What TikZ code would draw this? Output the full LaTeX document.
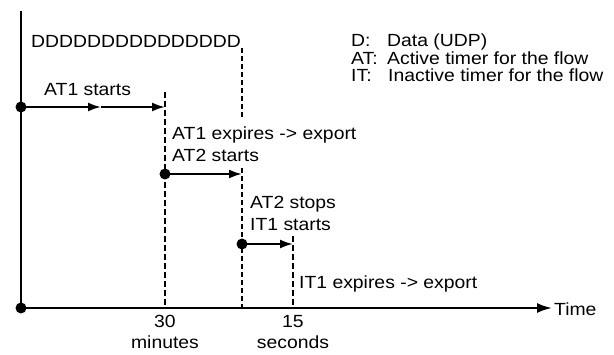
\documentclass[tikz,border=0pt]{standalone}
\usepackage{fontspec}
\setmainfont{Liberation Sans}[FakeStretch=1.1]
\usetikzlibrary{arrows.meta}
\begin{document}
\begin{tikzpicture}[x=1pt,y=-1pt,
  txt/.style={anchor=base west, inner sep=0pt, font=\fontsize{17.6}{20}\selectfont},
  ctxt/.style={anchor=base, inner sep=0pt, font=\fontsize{17.6}{20}\selectfont},
  axis/.style={line width=2.1pt},
  flow/.style={line width=2.1pt, -{Latex[length=13pt,width=9pt]}},
  guide/.style={line width=2.6pt, dash pattern=on 6pt off 3pt},
  guidethin/.style={line width=1.4pt, dash pattern=on 5pt off 3pt},
  dot/.style={circle, fill=black, inner sep=0pt, minimum size=11pt}]
\useasboundingbox (0,0) rectangle (614,355);
% guide lines
\coordinate (g1t) at (165,92);  \coordinate (g1b) at (165,308);
\coordinate (g2t) at (242,48);  \coordinate (g2m) at (242,117);
\coordinate (g2n) at (242,168); \coordinate (g2b) at (242,308);
\coordinate (g3t) at (293,236); \coordinate (g3b) at (293,308);
\draw[guide] (g1t) -- (g1b);
\draw[guidethin] (g2t) -- (g2m);
\draw[guidethin] (g2n) -- (g2b);
\draw[guide] (g3t) -- (g3b);
% axes
\coordinate (vtop) at (21,11);
\node[dot] (o) at (21,308) {};
\coordinate (tend) at (552,308);
\draw[axis] (vtop) -- (o.center);
\draw[axis,-{Latex[length=15pt,width=10pt]}] (o.center) -- (tend);
\node[txt] (time) at (554,316) {Time};
% flows
\node[dot] (s1) at (21,107) {};
\coordinate (m1) at (101,107);
\coordinate (e1) at (165,107);
\node[dot] (s2) at (165,174) {};
\coordinate (e2) at (242,174);
\node[dot] (s3) at (242,244) {};
\coordinate (e3) at (293,244);
\draw[flow] (s1.center) -- (m1);
\draw[flow] (m1) -- (e1);
\draw[flow] (s2.center) -- (e2);
\draw[flow] (s3.center) -- (e3);
% texts
\node[txt] (dd) at (31,48) {DDDDDDDDDDDDDDD};
\node[txt] (l1a) at (351,46.7) {D:};
\node[txt] (l1b) at (387,46.7) {Data (UDP)};
\node[txt] (l2a) at (351,65) {AT:};
\node[txt] (l2b) at (387,65) {Active timer for the flow};
\node[txt] (l3a) at (351,82) {IT:};
\node[txt] (l3b) at (388,82) {Inactive timer for the flow};
\node[txt] (at1s) at (44,96) {AT1 starts};
\node[txt] (at1e) at (172,140) {AT1 expires -> export};
\node[txt] (at2s) at (172,162) {AT2 starts};
\node[txt] (at2p) at (250,209) {AT2 stops};
\node[txt] (it1s) at (250,231) {IT1 starts};
\node[txt] (it1e) at (299,289) {IT1 expires -> export};
\node[ctxt] (n30) at (165,328) {30};
\node[ctxt] (min) at (165,349) {minutes};
\node[ctxt] (n15) at (293,328) {15};
\node[ctxt] (sec) at (293,349) {seconds};
\end{tikzpicture}
\end{document}
